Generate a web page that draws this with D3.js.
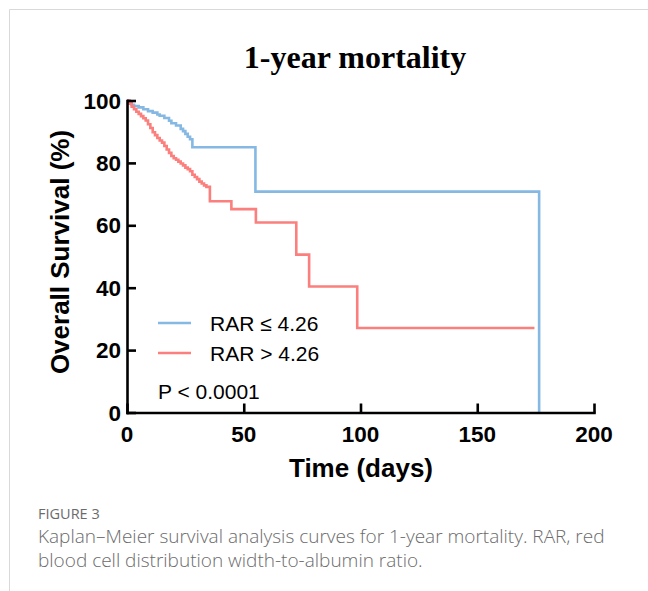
<!DOCTYPE html>
<html>
<head>
<meta charset="utf-8">
<script src="https://cdn.jsdelivr.net/npm/d3@7"></script>
<style>
  html, body { margin: 0; padding: 0; background: #fff; }
  svg { display: block; }
</style>
</head>
<body>
<div id="chart"></div>
<script>
// Kaplan-Meier steps (days, % surviving)
var blueTime = [0, 1, 2, 3, 5, 7, 9, 11, 13, 14, 16, 18, 19, 21, 23, 24, 25, 26, 27, 28, 55, 176.5]
var blueSurv = [100, 99.3, 98.6, 98.2, 97.8, 97.2, 96.6, 96.1, 95.5, 95.1, 94.4, 93.5, 92.7, 92, 90.9, 90.2, 89.3, 88.4, 87.6, 85, 70.8, 0]

var redTime = [0, 1, 2, 3, 4, 5, 6, 7, 8, 9, 10, 11, 12, 13, 14, 15, 16, 17, 18, 19, 20, 21, 22, 23, 24, 25, 26, 27, 28, 29, 30, 31, 32, 33, 34, 35.5, 44.7, 55.2, 72.5, 78, 98.6, 174.5]
var redSurv = [100, 99, 98, 97.2, 96.4, 95.7, 95, 94.3, 93.6, 92.4, 91.2, 89.8, 88.9, 88, 87.2, 86.5, 85.4, 84.3, 83.2, 82.2, 81.5, 81, 80.4, 79.8, 79.2, 78.5, 78, 77.3, 76.2, 75.5, 74.8, 74, 73.4, 72.8, 72.3, 67.7, 65.2, 60.9, 50.6, 40.4, 27.1, 27.1]

var groupNames = ["RAR \u2264 4.26", "RAR > 4.26"]
var groupColors = ["#85B8E2", "#FA7F7D"]

var xTicks = [0, 50, 100, 150, 200]
var yTicks = [0, 20, 40, 60, 80, 100]

var title = "1-year mortality"
var xLabel = "Time (days)"
var yLabel = "Overall Survival (%)"
var pText = "P < 0.0001"
var figLabel = "FIGURE 3"
var captionLines = [
  "Kaplan\u2013Meier survival analysis curves for 1-year mortality. RAR, red",
  "blood cell distribution width-to-albumin ratio."
]

var width = 648, height = 591
var svg = d3.select("#chart").append("svg")
    .attr("width", width)
    .attr("height", height)

// card frame (top + left edge)
svg.append("path")
    .attr("d", "M9.5,591 L9.5,9.5 L648,9.5")
    .attr("fill", "none")
    .attr("stroke", "#d9d9d9")
    .attr("stroke-width", 1)

var x = d3.scaleLinear().domain([0, 200]).range([127, 594])
var y = d3.scaleLinear().domain([0, 100]).range([412.5, 100.5])

// title
svg.append("text")
    .attr("x", 355)
    .attr("y", 68)
    .attr("text-anchor", "middle")
    .style("font-family", "'Liberation Serif', 'Times New Roman', serif")
    .style("font-weight", "bold")
    .style("font-size", "32px")
    .text(title)

// curves
var line = d3.line()
    .x(d => x(d[0]))
    .y(d => y(d[1]))
    .curve(d3.curveStepAfter)

var series = [
  d3.zip(blueTime, blueSurv),
  d3.zip(redTime, redSurv)
]

svg.append("g").selectAll("path")
    .data(series)
    .join("path")
    .attr("d", line)
    .attr("fill", "none")
    .attr("stroke", (d, i) => groupColors[i])
    .attr("stroke-width", 2.6)

// axes, ticks pointing inward
var xAxis = svg.append("g")
    .attr("transform", "translate(0," + y(0) + ")")
    .call(d3.axisTop(x).tickValues(xTicks).tickSize(9).tickSizeOuter(0).tickFormat(""))
var yAxis = svg.append("g")
    .attr("transform", "translate(" + x(0) + ",0)")
    .call(d3.axisRight(y).tickValues(yTicks).tickSize(9).tickSizeOuter(0).tickFormat(""))

svg.selectAll(".domain, .tick line")
    .attr("stroke", "#000")
    .attr("stroke-width", 2.6)

svg.selectAll(".domain").attr("stroke-linecap", "square")

// tick labels
svg.append("g").selectAll("text")
    .data(xTicks)
    .join("text")
    .attr("x", d => x(d))
    .attr("y", 442)
    .attr("text-anchor", "middle")
    .attr("class", "tickLabel")
    .text(d => d)

svg.append("g").selectAll("text")
    .data(yTicks)
    .join("text")
    .attr("x", 121)
    .attr("y", d => y(d) + 8)
    .attr("text-anchor", "end")
    .attr("class", "tickLabel")
    .text(d => d)

svg.selectAll(".tickLabel")
    .style("font-family", "'Liberation Sans', Arial, sans-serif")
    .style("font-weight", "bold")
    .style("font-size", "22.5px")

// axis titles
svg.append("text")
    .attr("x", 361)
    .attr("y", 477)
    .attr("text-anchor", "middle")
    .style("font-family", "'Liberation Sans', Arial, sans-serif")
    .style("font-weight", "bold")
    .style("font-size", "26px")
    .text(xLabel)

svg.append("text")
    .attr("transform", "translate(69,252) rotate(-90)")
    .attr("text-anchor", "middle")
    .style("font-family", "'Liberation Sans', Arial, sans-serif")
    .style("font-weight", "bold")
    .style("font-size", "26px")
    .text(yLabel)

// legend
var legend = svg.append("g").selectAll("g")
    .data(groupNames)
    .join("g")
    .attr("transform", (d, i) => "translate(158," + (323 + i * 30) + ")")

legend.append("line")
    .attr("x1", 0).attr("x2", 33)
    .attr("stroke", (d, i) => groupColors[i])
    .attr("stroke-width", 2.6)

legend.append("text")
    .attr("x", 52)
    .attr("y", 8)
    .style("font-family", "'Liberation Sans', Arial, sans-serif")
    .style("font-size", "21px")
    .text(d => d)

svg.append("text")
    .attr("x", 158)
    .attr("y", 399)
    .style("font-family", "'Liberation Sans', Arial, sans-serif")
    .style("font-size", "21px")
    .text(pText)

// caption
svg.append("text")
    .attr("x", 38)
    .attr("y", 519)
    .attr("fill", "#6b6b6b")
    .style("font-family", "'Open Sans', sans-serif")
    .style("font-size", "14.5px")
    .text(figLabel)

svg.append("g").selectAll("text")
    .data(captionLines)
    .join("text")
    .attr("x", 38)
    .attr("y", (d, i) => 543 + i * 24)
    .attr("fill", "#6b6b6b")
    .style("font-family", "'Open Sans', sans-serif")
    .style("font-size", "19px")
    .style("font-weight", 300)
    .text(d => d)
</script>
</body>
</html>
